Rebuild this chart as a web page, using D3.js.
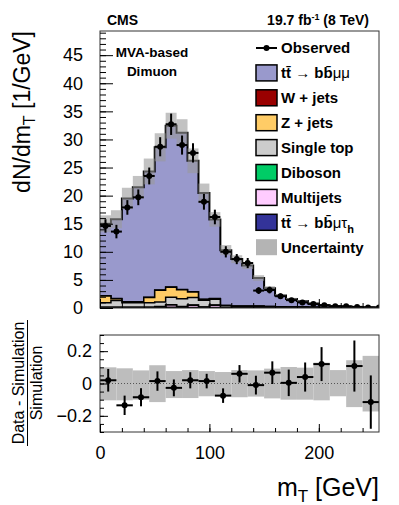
<!DOCTYPE html>
<html>
<head>
<meta charset="utf-8">
<script src="https://cdn.jsdelivr.net/npm/d3@7"></script>
<style>
body { margin: 0; background: #fff; }
text { font-family: "Liberation Sans", Arial, Helvetica, sans-serif; }
</style>
</head>
<body>
<svg id="chart" width="399" height="505"></svg>
<script>
// ---- data ----
// main plot: 10 GeV bins, low edges
var binLow = [0,10,20,30,40,50,60,70,80,90,100,110,120,130,140,150,160,170,180,190,200,210,220,230,240,250];
var ttbbmumu = [12.8,14.1,18.4,20.4,22.4,25.4,28.7,27.9,23.3,18.9,14.1,9.85,8.35,7.2,5.0,3.27,2.0,1.44,1.1,0.66,0.43,0.28,0.18,0.13,0.1,0.05];
var wjets    = [0.05,0.05,0.05,0.05,0.05,0.05,0.05,0.05,0.05,0.05,0.02,0.02,0.02,0.02,0.01,0.01,0,0,0,0,0,0,0,0,0,0];
var zjets    = [1.2,0.3,0.1,0.1,0.9,2.1,1.8,1.6,1.0,0.1,0.1,0.05,0.05,0.05,0.05,0.05,0.02,0.02,0.02,0.02,0,0,0,0,0,0];
var singletop= [0.8,1.2,0.8,0.8,0.8,0.8,1.3,1.4,1.3,1.2,1.0,0.3,0.2,0.2,0.2,0.15,0.15,0.1,0.1,0.1,0.05,0.05,0.05,0.05,0.05,0.05];
var diboson  = [0.05,0.05,0.05,0.05,0.05,0.05,0.05,0.05,0.05,0.05,0.05,0.03,0.03,0.03,0.03,0.02,0.02,0.02,0.02,0.01,0.01,0.01,0.01,0.01,0,0];
var multijet = [0,0,0,0,0,0.05,0.4,0.05,0.4,0.05,0.4,0,0,0,0,0,0,0,0,0,0,0,0,0,0,0];
var ttbbmutau= [0.1,0.1,0.1,0.1,0.1,0.15,0.15,0.15,0.1,0.1,0.1,0.05,0.05,0.05,0.05,0.03,0.03,0.02,0.02,0.02,0.01,0.01,0.01,0.01,0,0];
var mcUnc    = [1.5,1.6,1.9,2.0,2.3,2.5,2.3,2.4,2.2,1.7,1.3,0.9,0.7,0.6,0.5,0.35,0.25,0.2,0.15,0.12,0.1,0.08,0.06,0.05,0.05,0.05];
var observed = [14.6,13.6,17.9,19.7,23.5,28.7,32.7,29.0,27.6,18.9,16.2,10.0,8.7,8.0,3.1,3.2,2.1,1.4,1.0,0.7,0.5,0.3,0.3,0.2,0.1,0.1];
var obsErr   = [1.2,1.2,1.3,1.4,1.5,1.7,1.9,1.7,1.7,1.4,1.3,1.0,0.9,0.9,0.6,0.6,0.5,0.4,0.35,0.3,0.25,0.2,0.2,0.15,0.1,0.1];

// ratio plot: 15 GeV bins
var ratioLow  = [0,15,30,45,60,75,90,105,120,135,150,165,180,195,210,225,240];
var ratioVal  = [0.02,-0.135,-0.085,0.015,-0.027,0.02,0.015,-0.075,0.06,-0.01,0.067,0.004,0.04,0.12,null,0.108,-0.115];
var ratioErr  = [0.07,0.06,0.056,0.06,0.052,0.05,0.045,0.045,0.054,0.058,0.07,0.082,0.09,0.105,null,0.158,0.165];
var ratioUncUp= [0.1,0.094,0.081,0.113,0.077,0.083,0.077,0.071,0.083,0.081,0.092,0.102,0.098,0.129,0.083,0.144,0.171];
var ratioUncDn= [0.104,0.104,0.1,0.115,0.09,0.09,0.079,0.075,0.085,0.081,0.092,0.1,0.1,0.104,0.079,0.146,0.173];

var mainYTicks  = [0,5,10,15,20,25,30,35,40,45];
var ratioYTicks = [-0.2,0,0.2];
var xTicks      = [0,100,200];

var names  = ["t\u0074\u0304 \u2192 bb\u0304\u03bc\u03bc","W + jets","Z + jets","Single top","Diboson","Multijets","tt\u0304 \u2192 bb\u0304\u03bc\u03c4h","Uncertainty"];
// stack order, bottom first
var stackSeries = [ttbbmutau, multijet, diboson, singletop, zjets, wjets, ttbbmumu];
var stackColors = ["#333399","#ffccff","#00cc66","#cccccc","#ffcc66","#990000","#9999cc"];

var binW = 10, ratioW = 15;

var svg = d3.select("#chart");

var x = d3.scaleLinear().domain([0,255]).range([100,379]);
var y = d3.scaleLinear().domain([0,49.3]).range([308,31]);
var yr = d3.scaleLinear().domain([-0.3,0.3]).range([432,335]);

// clip
var defs = svg.append("defs");
defs.append("clipPath").attr("id","clipMain").append("rect")
  .attr("x",100).attr("y",31).attr("width",279).attr("height",277);
defs.append("clipPath").attr("id","clipRatio").append("rect")
  .attr("x",100).attr("y",335).attr("width",279).attr("height",97);

var gMain = svg.append("g").attr("clip-path","url(#clipMain)");

// cumulative stacks, draw the tallest first
var cum = [];
stackSeries.forEach(function (s, k) {
    cum.push(s.map(function (v, i) { return v + (k > 0 ? cum[k-1][i] : 0); }));
});

function stepPoints(vals, lows, w) {
    var pts = vals.map(function (v, i) { return [lows[i], v]; });
    pts.push([lows[lows.length-1] + w, vals[vals.length-1]]);
    return pts;
}
var area = d3.area().curve(d3.curveStepAfter)
    .x(function (d) { return x(d[0]); })
    .y0(y(0))
    .y1(function (d) { return y(d[1]); });
var line = d3.line().curve(d3.curveStepAfter)
    .x(function (d) { return x(d[0]); })
    .y(function (d) { return y(d[1]); });

for (var k = cum.length - 1; k >= 0; k--) {
    var pts = stepPoints(cum[k], binLow, binW);
    gMain.append("path").attr("d", area(pts)).attr("fill", stackColors[k]);
    gMain.append("path").attr("d", line(pts)).attr("fill","none")
        .attr("stroke","#000").attr("stroke-width", k == cum.length - 1 ? 2 : 1.5);
}
var total = cum[cum.length-1];

// uncertainty band
gMain.selectAll("rect.unc").data(binLow).enter().append("rect")
    .attr("class","unc")
    .attr("x", function (d) { return x(d); })
    .attr("width", x(binW) - x(0))
    .attr("y", function (d, i) { return y(total[i] + mcUnc[i]); })
    .attr("height", function (d, i) { return y(total[i] - mcUnc[i]) - y(total[i] + mcUnc[i]); })
    .attr("fill","#9a9a9a").attr("opacity",0.6);

// observed
var obs = gMain.selectAll("g.obs").data(binLow).enter().append("g").attr("class","obs");
obs.append("line")
    .attr("x1", function (d) { return x(d); })
    .attr("x2", function (d) { return x(d + binW); })
    .attr("y1", function (d, i) { return y(observed[i]); })
    .attr("y2", function (d, i) { return y(observed[i]); })
    .attr("stroke","#000").attr("stroke-width",2);
obs.append("line")
    .attr("x1", function (d) { return x(d + binW/2); })
    .attr("x2", function (d) { return x(d + binW/2); })
    .attr("y1", function (d, i) { return y(observed[i] - obsErr[i]); })
    .attr("y2", function (d, i) { return y(observed[i] + obsErr[i]); })
    .attr("stroke","#000").attr("stroke-width",2);
obs.append("circle")
    .attr("cx", function (d) { return x(d + binW/2); })
    .attr("cy", function (d, i) { return y(observed[i]); })
    .attr("r",3).attr("fill","#000");

// main frame + axes
svg.append("rect").attr("x",100).attr("y",31).attr("width",279).attr("height",277)
    .attr("fill","none").attr("stroke","#333").attr("stroke-width",1);

var yMinor = svg.append("g").attr("transform","translate(100,0)")
    .call(d3.axisLeft(y).tickValues(d3.range(0,50,1)).tickSize(-6).tickFormat(""));
var yMajor = svg.append("g").attr("transform","translate(100,0)")
    .call(d3.axisLeft(y).tickValues(mainYTicks).tickSize(-13).tickPadding(17));
var xMainMinor = svg.append("g").attr("transform","translate(0,308)")
    .call(d3.axisBottom(x).tickValues(d3.range(0,256,20)).tickSize(-5).tickFormat(""));
var xMainMajor = svg.append("g").attr("transform","translate(0,308)")
    .call(d3.axisBottom(x).tickValues(xTicks).tickSize(-9).tickFormat(""));

// ratio plot
var gR = svg.append("g").attr("clip-path","url(#clipRatio)");
gR.selectAll("rect.runc").data(ratioLow).enter().append("rect")
    .attr("x", function (d) { return x(d); })
    .attr("width", x(ratioW) - x(0))
    .attr("y", function (d, i) { return yr(ratioUncUp[i]); })
    .attr("height", function (d, i) { return yr(-ratioUncDn[i]) - yr(ratioUncUp[i]); })
    .attr("fill","#bdbdbd");
gR.append("line").attr("x1",100).attr("x2",379).attr("y1",yr(0)).attr("y2",yr(0))
    .attr("stroke","#555").attr("stroke-width",1).attr("stroke-dasharray","1,2");

var rp = gR.selectAll("g.rp").data(ratioLow.filter(function (d, i) { return ratioVal[i] !== null; }))
    .enter().append("g");
rp.each(function (d) {
    var i = ratioLow.indexOf(d), g = d3.select(this);
    g.append("line").attr("x1", x(d)).attr("x2", x(d + ratioW))
        .attr("y1", yr(ratioVal[i])).attr("y2", yr(ratioVal[i]))
        .attr("stroke","#000").attr("stroke-width",2);
    g.append("line").attr("x1", x(d + ratioW/2)).attr("x2", x(d + ratioW/2))
        .attr("y1", yr(ratioVal[i] - ratioErr[i])).attr("y2", yr(ratioVal[i] + ratioErr[i]))
        .attr("stroke","#000").attr("stroke-width",2);
    g.append("circle").attr("cx", x(d + ratioW/2)).attr("cy", yr(ratioVal[i]))
        .attr("r",3).attr("fill","#000");
});

svg.append("rect").attr("x",100).attr("y",335).attr("width",279).attr("height",97)
    .attr("fill","none").attr("stroke","#333").attr("stroke-width",1);
svg.append("g").attr("transform","translate(100,0)")
    .call(d3.axisLeft(yr).tickValues(d3.range(-0.3,0.3001,0.05)).tickSize(-4).tickFormat(""));
svg.append("g").attr("transform","translate(100,0)")
    .call(d3.axisLeft(yr).tickValues(ratioYTicks).tickSize(-8).tickPadding(8)
        .tickFormat(function (d) { return d == 0 ? "0" : d3.format(".1f")(d).replace("-","\u2212"); }));
svg.append("g").attr("transform","translate(0,432)")
    .call(d3.axisBottom(x).tickValues(d3.range(0,256,20)).tickSize(-4).tickFormat(""));
svg.append("g").attr("transform","translate(0,432)")
    .call(d3.axisBottom(x).tickValues(xTicks).tickSize(-8).tickPadding(14));

// axis styling
svg.selectAll(".domain").remove();
svg.selectAll(".tick line").attr("stroke","#000");
svg.selectAll(".tick text").attr("font-size",18).attr("fill","#000")
    .style("font-family","'Liberation Sans', Arial, sans-serif");

// titles
svg.append("text").attr("x",107).attr("y",25).attr("font-size",14).attr("font-weight","bold").text("CMS");
var lumi = svg.append("text").attr("x",369).attr("y",25).attr("font-size",14).attr("font-weight","bold")
    .attr("text-anchor","end");
lumi.append("tspan").text("19.7 fb");
lumi.append("tspan").attr("dy",-5).attr("font-size",9).text("-1");
lumi.append("tspan").attr("dy",5).text(" (8 TeV)");

svg.append("text").attr("x",152).attr("y",57).attr("font-size",13.5).attr("font-weight","bold")
    .attr("text-anchor","middle").text("MVA-based");
svg.append("text").attr("x",152).attr("y",76).attr("font-size",13.5).attr("font-weight","bold")
    .attr("text-anchor","middle").text("Dimuon");

var yt = svg.append("text").attr("transform","translate(30,31) rotate(-90)")
    .attr("text-anchor","end").attr("font-size",23);
yt.append("tspan").text("dN/dm");
yt.append("tspan").attr("dy",5).attr("font-size",16).text("T");
yt.append("tspan").attr("dy",-5).text(" [1/GeV]");

svg.append("text").attr("transform","translate(24,383) rotate(-90)").attr("text-anchor","middle")
    .attr("font-size",16).text("Data - Simulation");
svg.append("line").attr("x1",27.5).attr("x2",27.5).attr("y1",320).attr("y2",446)
    .attr("stroke","#000").attr("stroke-width",1);
svg.append("text").attr("transform","translate(42,383) rotate(-90)").attr("text-anchor","middle")
    .attr("font-size",16).text("Simulation");

var xt = svg.append("text").attr("x",379).attr("y",496).attr("text-anchor","end").attr("font-size",25);
xt.append("tspan").text("m");
xt.append("tspan").attr("dy",6).attr("font-size",17).text("T");
xt.append("tspan").attr("dy",-6).text(" [GeV]");

// legend
var legY0 = 48, legDy = 24.9;
var leg = svg.append("g");
var lo = leg.append("g");
lo.append("line").attr("x1",256).attr("x2",277).attr("y1",legY0).attr("y2",legY0)
    .attr("stroke","#000").attr("stroke-width",2);
lo.append("circle").attr("cx",266.5).attr("cy",legY0).attr("r",3).attr("fill","#000");
leg.append("text").attr("x",281).attr("y",legY0).attr("dy","0.36em").attr("font-size",15)
    .attr("font-weight","bold").text("Observed");

var legColors = ["#9999cc","#990000","#ffcc66","#cccccc","#00cc66","#ffccff","#333399"];
function legLabel(t, i) {
    var ty = legY0 + legDy * (i + 1);
    var tx = t.append("text").attr("x",281).attr("y",ty).attr("dy","0.36em")
        .attr("font-size",15).attr("font-weight","bold");
    if (i == 0 || i == 6) {
        tx.append("tspan").text("tt\u0304 ");
        tx.append("tspan").attr("font-weight","normal").text("\u2192");
        tx.append("tspan").text(" bb\u0304");
        tx.append("tspan").attr("font-weight","normal").text(i == 0 ? "\u03bc\u03bc" : "\u03bc\u03c4");
        if (i == 6) tx.append("tspan").attr("dy",5).attr("font-size",11).text("h");
    } else {
        tx.text(names[i]);
    }
}
legColors.forEach(function (c, i) {
    var ty = legY0 + legDy * (i + 1);
    leg.append("rect").attr("x",256).attr("y",ty - 8).attr("width",21).attr("height",16)
        .attr("fill",c).attr("stroke","#000").attr("stroke-width",1.5);
    legLabel(leg, i);
});
var uy = legY0 + legDy * 8;
leg.append("rect").attr("x",256).attr("y",uy - 8).attr("width",21).attr("height",16).attr("fill","#b4b4b4");
leg.append("text").attr("x",281).attr("y",uy).attr("dy","0.36em").attr("font-size",15)
    .attr("font-weight","bold").text("Uncertainty");
</script>
</body>
</html>
